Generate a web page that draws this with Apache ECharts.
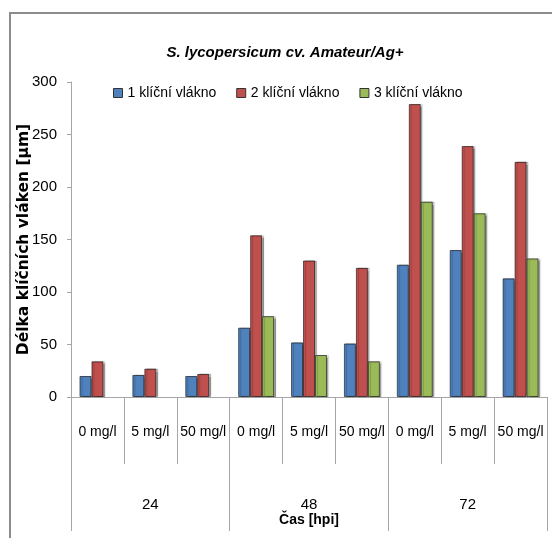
<!DOCTYPE html>
<html>
<head>
<meta charset="utf-8">
<script src="https://cdn.jsdelivr.net/npm/echarts@6/dist/echarts.min.js"></script>
<style>
  html, body { margin: 0; padding: 0; background: #ffffff; }
  #chart { width: 552px; height: 538px; }
</style>
</head>
<body>
<div id="chart"></div>
<script>
// Concentration level under each bar group, and the time point that groups them
const concentrations = ['0 mg/l', '5 mg/l', '50 mg/l', '0 mg/l', '5 mg/l', '50 mg/l', '0 mg/l', '5 mg/l', '50 mg/l'];
const timePoints = ['24', '48', '72'];

// Germ-tube length [µm] for the 1st, 2nd and 3rd germ tube
const seriesNames = ['1 klíční vlákno', '2 klíční vlákno', '3 klíční vlákno'];
const tube1 = [20, 21, 20, 66, 52, 51, 126, 140, 113];
const tube2 = [34, 27, 22, 154, 130, 123, 279, 239, 224];
const tube3 = [null, null, null, 77, 40, 34, 186, 175, 132];

// Value axis range
const yMin = 0, yMax = 300, yStep = 50;

const colors = ['#4F81BD', '#C0504D', '#9BBB59'];
const sans = "'Liberation Sans Narrow', 'Arial Narrow', 'Liberation Sans', sans-serif";
const axisGray = '#A6A6A6';

const chart = echarts.init(document.getElementById('chart'), null, { renderer: 'canvas' });

function barSeries(name, data, color) {
  return {
    name: name,
    type: 'bar',
    xAxisIndex: 0,
    data: data,
    barGap: '0%',
    barCategoryGap: '32%',
    itemStyle: {
      color: color,
      borderColor: 'rgba(0,0,0,0.55)',
      borderWidth: 1,
      shadowColor: 'rgba(0,0,0,0.35)',
      shadowBlur: 1,
      shadowOffsetX: 2,
      shadowOffsetY: 0
    },
    emphasis: { disabled: true }
  };
}

chart.setOption({
  animation: false,
  backgroundColor: '#ffffff',
  title: {
    text: 'S. lycopersicum cv. Amateur/Ag+',
    left: 280,
    textAlign: 'center',
    top: 40,
    textStyle: {
      fontFamily: sans,
      fontSize: 15,
      fontWeight: 'bold',
      fontStyle: 'italic',
      color: '#000000'
    }
  },
  legend: {
    data: seriesNames,
    left: 113,
    top: 86,
    padding: 0,
    itemWidth: 9,
    itemHeight: 9,
    itemGap: 20,
    icon: 'rect',
    itemStyle: { borderColor: '#333', borderWidth: 1 },
    textStyle: {
      fontFamily: sans,
      fontSize: 14,
      color: '#000000'
    }
  },
  grid: { left: 71, right: 5, top: 82, bottom: 141, containLabel: false },
  xAxis: [
    {
      type: 'category',
      data: concentrations,
      position: 'bottom',
      axisLine: { show: true, lineStyle: { color: axisGray, width: 1 } },
      axisTick: { show: true, interval: 0, length: 67, lineStyle: { color: axisGray } },
      axisLabel: {
        interval: 0,
        margin: 28,
        fontFamily: sans,
        fontSize: 14,
        color: '#000000'
      },
      splitLine: { show: false }
    },
    {
      type: 'category',
      data: timePoints,
      position: 'bottom',
      axisLine: { show: false },
      axisTick: { show: true, interval: 0, length: 134, lineStyle: { color: axisGray } },
      axisLabel: {
        interval: 0,
        margin: 100,
        fontFamily: sans,
        fontSize: 15,
        color: '#000000'
      },
      name: 'Čas [hpi]',
      nameLocation: 'middle',
      nameGap: 116,
      nameMoveOverlap: false,
      nameTextStyle: {
        fontFamily: sans,
        fontSize: 14,
        fontWeight: 'bold',
        color: '#000000'
      },
      splitLine: { show: false }
    }
  ],
  yAxis: {
    type: 'value',
    min: yMin,
    max: yMax,
    interval: yStep,
    axisLine: { show: true, lineStyle: { color: axisGray } },
    axisTick: { show: true, length: 4, lineStyle: { color: axisGray } },
    axisLabel: {
      margin: 14,
      fontFamily: sans,
      fontSize: 15,
      color: '#000000'
    },
    splitLine: { show: false },
    name: 'Délka klíčních vláken [µm]',
    nameLocation: 'middle',
    nameGap: 39,
    nameRotate: 90,
    nameMoveOverlap: false,
    nameTextStyle: {
      fontFamily: "'DejaVu Sans', sans-serif",
      fontSize: 15.5,
      fontWeight: 'bold',
      color: '#000000'
    }
  },
  graphic: [
    {
      type: 'rect',
      silent: true,
      shape: { x: 10, y: 13, width: 600, height: 600 },
      style: { fill: 'none', stroke: '#8C8C8C', lineWidth: 2 }
    }
  ],
  series: [
    barSeries(seriesNames[0], tube1, colors[0]),
    barSeries(seriesNames[1], tube2, colors[1]),
    barSeries(seriesNames[2], tube3, colors[2])
  ]
});
</script>
</body>
</html>
